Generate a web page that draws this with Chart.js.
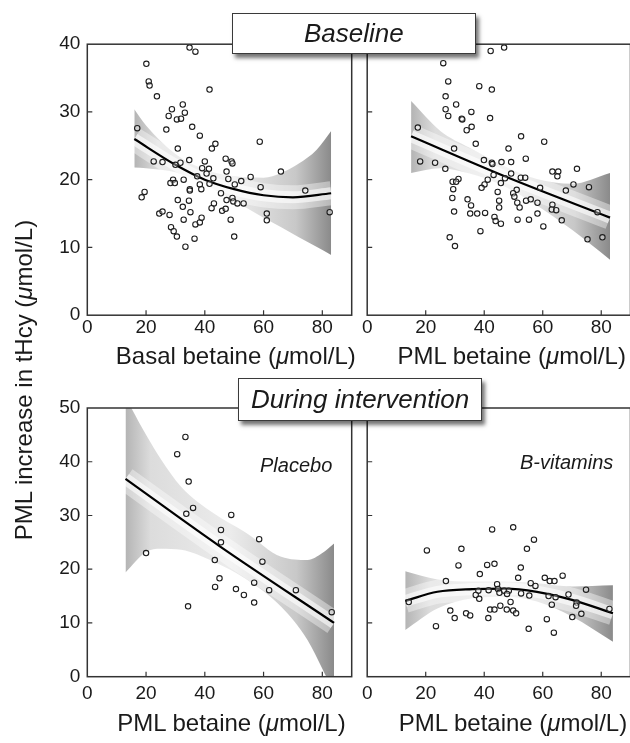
<!DOCTYPE html>
<html>
<head>
<meta charset="utf-8">
<script src="https://cdn.jsdelivr.net/npm/chart.js@4.4.1/dist/chart.umd.min.js"></script>
<style>
  html, body { margin: 0; padding: 0; background: #fff; overflow: hidden; width: 630px; height: 743px; }
  canvas { position: absolute; left: 0; top: 0; }
  .t { position: absolute; font-family: "Liberation Sans", Arial, Helvetica, sans-serif; color: #1a1a1a; white-space: nowrap; line-height: 24px; font-size: 24px; text-align: center; width: 300px; }
  .box { position: absolute; box-sizing: border-box; background: #fff; border: 1.5px solid #3a3a3a; box-shadow: 3px 4px 4px rgba(0,0,0,0.55);
         font-family: "Liberation Sans", Arial, Helvetica, sans-serif; font-style: italic; font-size: 26px; color: #1a1a1a;
         display: flex; align-items: center; justify-content: center; z-index: 5; }
  .lab { position: absolute; font-family: "Liberation Sans", Arial, Helvetica, sans-serif; font-style: italic; font-size: 20px; color: #1a1a1a; line-height: 20px; }
</style>
</head>
<body>
<canvas id="tl" width="640" height="743"></canvas>
<canvas id="tr" width="640" height="743"></canvas>
<canvas id="bl" width="640" height="743"></canvas>
<canvas id="br" width="640" height="743"></canvas>

<div class="box" style="left:231.7px;top:12.7px;width:244.3px;height:41.3px;">Baseline</div>
<div class="box" style="left:238.3px;top:378px;width:243.4px;height:43.3px;">During intervention</div>
<div class="lab" style="left:260px;top:455px;">Placebo</div>
<div class="lab" style="left:520px;top:452px;">B-vitamins</div>

<div class="t" style="left:85.8px;top:343.8px;">Basal betaine (<i>μ</i>mol/L)</div>
<div class="t" style="left:361.7px;top:343.8px;">PML betaine (<i>μ</i>mol/L)</div>
<div class="t" style="left:81.5px;top:711px;">PML betaine (<i>μ</i>mol/L)</div>
<div class="t" style="left:363px;top:711px;">PML betaine (<i>μ</i>mol/L)</div>
<div class="t" style="left:-175.6px;top:367.7px;width:400px;transform:rotate(-90deg);">PML increase in tHcy (<i>μ</i>mol/L)</div>

<script>
// baseline, basal betaine
const tlX = [34.8, 36.8, 20.1, 20.9, 21.2, 41.6, 23.7, 32.5, 28.8, 33.2, 27.7, 30.5, 31.9, 17.0, 26.9, 35.7, 38.3, 58.7, 43.6, 42.4,
  30.8, 22.6, 25.6, 31.7, 30.0, 34.7, 40.0, 47.1, 49.1, 49.4, 39.1, 41.4, 47.4, 65.9, 37.4, 40.6, 42.9, 48.0, 55.6, 29.2,
  28.3, 29.8, 32.8, 38.3, 41.6, 50.2, 52.4, 59.0, 74.2, 34.9, 34.9, 38.8, 19.5, 18.5, 45.5, 30.8, 34.6, 47.4, 49.4, 49.7,
  51.1, 53.2, 32.5, 43.1, 42.3, 24.5, 25.6, 28.0, 35.1, 45.9, 47.1, 61.1, 82.5, 32.8, 36.8, 38.3, 38.9, 48.8, 61.1, 28.5,
  29.4, 30.5, 36.5, 50.0, 33.4];
const tlY = [39.5, 38.9, 37.1, 34.5, 33.9, 33.3, 32.3, 31.1, 30.4, 29.9, 29.4, 28.9, 29.0, 27.6, 27.4, 27.8, 26.5, 25.6, 25.3, 24.6,
  24.6, 22.7, 22.6, 22.5, 22.2, 22.9, 22.7, 23.1, 22.7, 22.4, 21.7, 21.6, 21.2, 21.2, 20.5, 20.9, 20.2, 20.1, 20.4, 20.0,
  19.5, 19.5, 20.0, 19.3, 19.4, 19.3, 19.8, 18.9, 18.4, 18.6, 18.4, 18.6, 18.2, 17.4, 18.0, 17.0, 16.9, 17.0, 17.3, 16.8,
  16.5, 16.5, 16.0, 16.5, 15.8, 15.0, 15.3, 14.8, 15.2, 15.4, 15.7, 15.0, 15.2, 14.1, 13.4, 13.7, 14.4, 14.1, 14.0, 13.0,
  12.4, 11.6, 11.3, 11.6, 10.1];
const tlBandX = [16, 20, 30, 40, 50, 60, 66, 72, 78, 83];
const tlUpper = [30.4, 28.0, 23.8, 21.5, 20.5, 20.3, 21.0, 22.4, 24.4, 27.2];
const tlLower = [21.8, 21.7, 21.1, 19.3, 16.9, 14.4, 13.0, 11.5, 10.1, 8.9];
const tlFitX = [16, 30, 40, 50, 60, 70, 83];
const tlFit = [26.0, 22.2, 20.0, 18.6, 17.7, 17.4, 18.0];

// baseline, PML betaine
const trX = [46.8, 42.2, 26.0, 27.7, 38.3, 42.6, 26.8, 30.4, 26.8, 35.6, 27.7, 32.3, 32.5, 42.0, 35.7, 34.0, 17.3, 52.6, 60.5, 37.1,
  29.7, 48.3, 54.2, 18.1, 23.2, 39.9, 42.6, 42.8, 45.9, 49.2, 26.7, 71.7, 63.3, 65.3, 65.0, 43.2, 49.2, 31.2, 29.2, 30.4,
  41.2, 47.1, 52.5, 54.0, 45.7, 40.1, 39.1, 29.4, 70.5, 75.8, 59.1, 67.9, 51.1, 44.6, 49.9, 50.3, 29.1, 34.3, 45.1, 54.3,
  55.9, 51.3, 35.5, 45.1, 58.2, 52.1, 63.3, 63.1, 64.6, 29.7, 35.2, 37.6, 40.3, 58.2, 78.7, 43.5, 43.9, 45.7, 51.4, 55.3,
  66.5, 38.7, 60.2, 28.2, 75.3, 80.4, 30.0];
const trY = [39.5, 39.0, 37.2, 34.5, 33.8, 33.3, 32.3, 31.1, 30.4, 30.0, 29.4, 29.0, 28.9, 29.1, 27.8, 27.3, 27.7, 26.4, 25.6, 25.3,
  24.6, 24.6, 23.1, 22.7, 22.5, 22.9, 22.5, 22.3, 22.6, 22.6, 21.6, 21.6, 21.2, 21.2, 20.5, 20.7, 20.9, 20.1, 19.7, 19.7,
  20.0, 20.2, 20.3, 20.3, 19.5, 19.3, 18.8, 18.6, 19.3, 18.9, 18.8, 18.4, 18.5, 18.2, 18.0, 17.5, 17.3, 17.1, 16.9, 16.9,
  17.1, 16.6, 16.2, 15.9, 16.6, 15.9, 16.3, 15.6, 15.5, 15.3, 15.0, 15.0, 15.1, 15.0, 15.2, 14.5, 13.9, 13.5, 14.1, 14.1,
  14.0, 12.4, 13.1, 11.5, 11.2, 11.5, 10.2];
const trBandX = [15, 25, 35, 47, 58, 70, 83];
const trUpper = [31.6, 27.2, 24.7, 22.0, 20.1, 19.4, 21.0];
const trLower = [21.0, 21.7, 20.9, 19.0, 16.2, 12.6, 8.2];
const trFitX = [15, 47, 83];
const trFit = [26.4, 20.5, 14.4];

// during intervention, placebo
const blX = [33.4, 30.6, 34.5, 36.0, 33.7, 49.0, 45.5, 45.5, 58.5, 20.0, 43.4, 59.6, 45.0, 56.8, 43.5, 50.6, 53.3, 61.9, 71.0, 56.8, 34.3, 83.2];
const blY = [44.6, 41.4, 36.3, 31.4, 30.3, 30.1, 27.3, 25.0, 25.6, 23.0, 21.7, 21.4, 18.3, 17.5, 16.7, 16.3, 15.2, 16.1, 16.1, 13.8, 13.1, 12.0];
const blBandX = [13, 20, 25, 32, 43, 54, 66, 75, 80, 84];
const blUpper = [52.0, 45.0, 40.5, 35.3, 30.4, 26.8, 22.3, 21.7, 23.0, 24.8];
const blLower = [19.4, 23.2, 23.8, 23.6, 21.4, 18.2, 13.0, 6.8, 1.5, -3.0];
const blFitX = [13, 45, 84];
const blFit = [36.8, 24.3, 10.0];

// during intervention, B-vitamins
const brX = [49.9, 42.7, 57.0, 20.4, 32.2, 54.6, 31.2, 41.0, 43.5, 52.5, 38.5, 51.6, 60.7, 62.4, 64.0, 66.8, 26.9, 55.9, 57.5, 44.4,
  74.8, 38.0, 41.5, 44.7, 45.2, 46.8, 48.4, 47.8, 52.6, 55.4, 37.1, 38.3, 62.0, 64.4, 68.8, 14.2, 49.0, 63.1, 71.6, 71.4,
  82.8, 42.0, 43.5, 45.5, 47.7, 49.9, 50.9, 28.4, 29.9, 33.8, 35.2, 41.4, 61.4, 70.1, 73.2, 23.5, 55.2, 63.8];
const brY = [27.8, 27.4, 25.5, 23.5, 23.8, 23.8, 20.7, 20.8, 21.0, 20.3, 19.1, 18.4, 18.4, 17.8, 17.8, 18.8, 17.8, 17.4, 16.9, 17.2,
  16.2, 16.0, 16.1, 16.3, 15.6, 16.0, 16.0, 15.4, 15.5, 15.1, 15.2, 14.5, 15.0, 14.8, 15.3, 13.9, 13.9, 13.4, 13.8, 13.2,
  12.6, 12.5, 12.5, 13.2, 12.5, 12.3, 11.8, 12.3, 10.9, 11.8, 11.4, 10.9, 10.7, 11.1, 11.7, 9.4, 8.9, 8.2];
const brBandX = [13, 24, 36, 47, 58, 70, 84];
const brUpper = [19.6, 18.1, 17.7, 17.7, 17.4, 16.8, 17.0];
const brLower = [8.7, 12.7, 14.6, 14.9, 14.0, 11.2, 6.5];
const brFitX = [13, 24, 36, 47, 58, 70, 84];
const brFit = [14.1, 15.8, 16.3, 16.4, 15.8, 14.3, 11.8];

const xTicks = [0, 20, 40, 60, 80];
const yTicksTop = [0, 10, 20, 30, 40];
const yTicksBottom = [0, 10, 20, 30, 40, 50];

Chart.defaults.font.family = '"Liberation Sans", Arial, Helvetica, sans-serif';
Chart.defaults.color = "#1a1a1a";

function pairs(xs, ys) {
  return xs.map((x, i) => ({ x: x, y: ys[i] }));
}

const frame = {
  id: "frame",
  afterDatasetsDraw(chart, args, opts) {
    const { ctx, chartArea: a } = chart;
    const x = chart.scales.x;
    const y = chart.scales.y;
    ctx.save();
    ctx.strokeStyle = "#333";
    ctx.lineWidth = 1.5;
    ctx.strokeRect(a.left, a.top, a.right - a.left, a.bottom - a.top);
    ctx.beginPath();
    for (const v of xTicks) {
      if (v <= 0) continue;
      const px = x.getPixelForValue(v);
      ctx.moveTo(px, a.bottom);
      ctx.lineTo(px, a.bottom - 5);
    }
    for (const v of opts.yTicks) {
      if (v <= 0 || v >= y.max) continue;
      const py = y.getPixelForValue(v);
      ctx.moveTo(a.left, py);
      ctx.lineTo(a.left + 5, py);
    }
    ctx.lineWidth = 1.2;
    ctx.stroke();
    ctx.restore();
  },
};

function bandFill(bandX) {
  return (c) => {
    const chart = c.chart;
    if (!chart.chartArea || !chart.scales.x) return "#dddddd";
    const x0 = chart.scales.x.getPixelForValue(bandX[0]);
    const x1 = chart.scales.x.getPixelForValue(bandX[bandX.length - 1]);
    const g = chart.ctx.createLinearGradient(x0, 0, x1, 0);
    g.addColorStop(0, "#b4b4b4");
    g.addColorStop(0.12, "#dcdcdc");
    g.addColorStop(0.5, "#ececec");
    g.addColorStop(0.82, "#c8c8c8");
    g.addColorStop(1, "#8a8a8a");
    return g;
  };
}

// white glow along the fit line so the band looks rounded
function glow(fitX, fit, width, alpha) {
  return {
    type: "line",
    data: pairs(fitX, fit),
    borderColor: "rgba(255,255,255," + alpha + ")",
    borderWidth: width,
    pointRadius: 0,
    cubicInterpolationMode: "monotone",
    fill: false,
  };
}

function makePanel(id, xs, ys, bandX, upper, lower, fitX, fit, yTicks, pad, showY, labelPad) {
  return new Chart(document.getElementById(id), {
    type: "scatter",
    data: {
      datasets: [
        {
          data: pairs(xs, ys),
          pointRadius: 2.7,
          borderWidth: 1.1,
          borderColor: "#1e1e1e",
          backgroundColor: "rgba(255,255,255,0.35)",
        },
        {
          type: "line",
          data: pairs(fitX, fit),
          borderColor: "#000",
          borderWidth: 2.2,
          pointRadius: 0,
          cubicInterpolationMode: "monotone",
          fill: false,
        },
        glow(fitX, fit, 12, 0.6),
        glow(fitX, fit, 24, 0.4),
        {
          type: "line",
          data: pairs(bandX, upper),
          borderColor: "rgba(0,0,0,0)",
          pointRadius: 0,
          cubicInterpolationMode: "monotone",
          fill: "+1",
          backgroundColor: bandFill(bandX),
        },
        {
          type: "line",
          data: pairs(bandX, lower),
          borderColor: "rgba(0,0,0,0)",
          pointRadius: 0,
          cubicInterpolationMode: "monotone",
          fill: false,
        },
      ],
    },
    options: {
      responsive: false,
      animation: false,
      events: [],
      layout: { padding: pad },
      plugins: {
        legend: { display: false },
        tooltip: { enabled: false },
        frame: { yTicks: yTicks },
      },
      scales: {
        x: {
          type: "linear",
          min: 0,
          max: 90,
          grid: { display: false, drawTicks: false },
          border: { display: false },
          ticks: { stepSize: 20, includeBounds: false, font: { size: 19 }, padding: labelPad, color: "#1a1a1a" },
          afterBuildTicks: (axis) => {
            axis.ticks = xTicks.map((v) => ({ value: v }));
          },
          afterFit: (axis) => {
            axis.height = 30;
          },
        },
        y: {
          type: "linear",
          min: 0,
          max: yTicks[yTicks.length - 1],
          grid: { display: false, drawTicks: false },
          border: { display: false },
          ticks: { display: showY, stepSize: 10, font: { size: 19 }, padding: 7, color: "#1a1a1a" },
          afterBuildTicks: (axis) => {
            axis.ticks = yTicks.map((v) => ({ value: v }));
          },
          afterFit: (axis) => {
            axis.width = showY ? 40 : 0;
          },
        },
      },
    },
    plugins: [frame],
  });
}

makePanel("tl", tlX, tlY, tlBandX, tlUpper, tlLower, tlFitX, tlFit, yTicksTop,
  { left: 47.3, right: 288.3, top: 44.2, bottom: 397.8 }, true, 1);
makePanel("tr", trX, trY, trBandX, trUpper, trLower, trFitX, trFit, yTicksTop,
  { left: 367.2, right: 9.5, top: 44.2, bottom: 397.8 }, false, 1);
makePanel("bl", blX, blY, blBandX, blUpper, blLower, blFitX, blFit, yTicksBottom,
  { left: 47.3, right: 288.3, top: 408, bottom: 36.3 }, true, 6);
makePanel("br", brX, brY, brBandX, brUpper, brLower, brFitX, brFit, yTicksBottom,
  { left: 367.2, right: 9.5, top: 408, bottom: 36.3 }, false, 6);
</script>
</body>
</html>
